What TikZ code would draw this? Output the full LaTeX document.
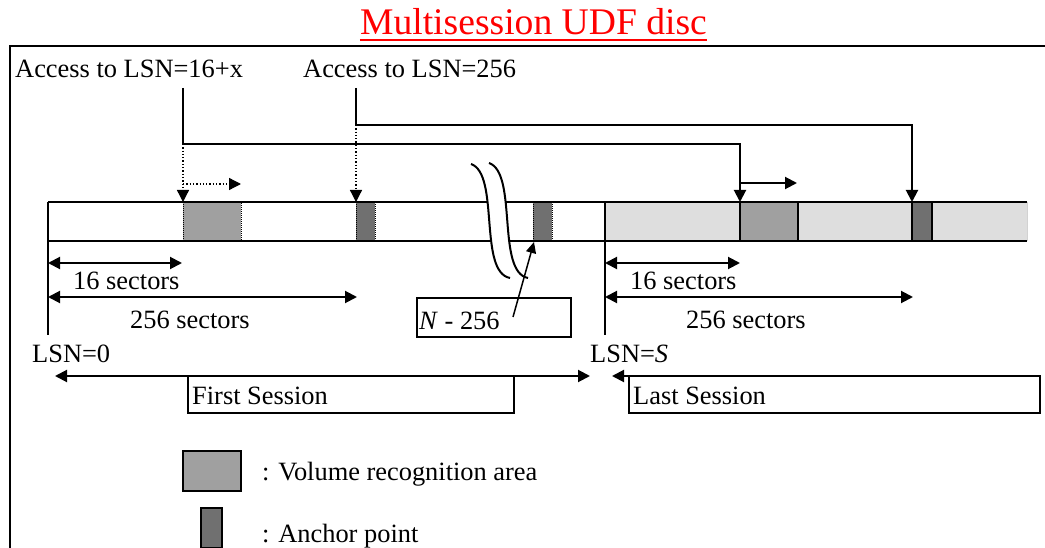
\documentclass[tikz,border=0pt]{standalone}
\usepackage{fontspec}
\setmainfont{Liberation Serif}
\usetikzlibrary{arrows.meta}
\definecolor{vragray}{HTML}{A0A0A0}
\definecolor{ancgray}{HTML}{707070}
\definecolor{lastgray}{HTML}{DEDEDE}
\begin{document}
\begin{tikzpicture}[x=1pt,y=-1pt,
  txt/.style={font=\fontsize{26.4}{30}\selectfont, inner sep=0pt, anchor=base west},
  thk/.style={line width=2pt},
  arr/.style={line width=2pt,-{Triangle[length=12pt,width=12pt]}},
  darr/.style={line width=2pt,{Triangle[length=12pt,width=12pt]}-{Triangle[length=12pt,width=12pt]}},
  dotarr/.style={line width=1.3pt,dotted,-{Triangle[length=12pt,width=12pt]}},
  dotbox/.style={line width=1pt,densely dotted},
  sbox/.style={line width=1.6pt},
]
\useasboundingbox (0,0) rectangle (1045,548);

% title
\node[font=\fontsize{37.6}{40}\selectfont, text=red, inner sep=0pt, anchor=base] (title) at (533.5,35) {Multisession UDF disc};
\draw[red, line width=2pt] ([yshift=-5pt]title.base west) -- ([yshift=-5pt]title.base east);

% frame
\draw[thk] (1045,46) -- (10,46) -- (10,548);

% bar
\fill[white] (48,202) rectangle (605,241);
\fill[lastgray] (605,202) rectangle (1027,241);
\draw[gray!35, line width=0.8pt] (1027,202) -- (1027,241);
\fill[vragray] (183,202) rectangle (241,241);
\draw[dotbox] (183,202) rectangle (241,241);
\fill[ancgray] (356,202) rectangle (375,241);
\draw[dotbox] (356,202) rectangle (375,241);
\fill[ancgray] (533,202) rectangle (552,241);
\draw[dotbox] (533,202) rectangle (552,241);
\draw[thk, fill=vragray] (740,202) rectangle (798,241);
\draw[thk, fill=ancgray] (912,202) rectangle (932,241);
\draw[thk] (48,202) -- (1027,202);
\draw[thk] (48,241) -- (1027,241);
\draw[thk] (48,202) -- (48,335);
\draw[thk] (605,202) -- (605,335);

% break
\fill[white] (471,164) .. controls (500,174) and (478,272) .. (510,278) -- (528,278) .. controls (496,272) and (518,173) .. (489,163) -- cycle;
\draw[thk] (471,164) .. controls (500,174) and (478,272) .. (510,278);
\draw[thk] (489,163) .. controls (518,173) and (496,272) .. (528,278);

% access labels
\node[txt] (acc1) at (15,78) {Access to LSN=16+x};
\node[txt] (acc2) at (303,78) {Access to LSN=256};
\coordinate (a1) at (183,88);
\coordinate (a2) at (356,88);
\coordinate (v1) at (740,202);
\coordinate (v2) at (912,202);
\coordinate (f1) at (183,202);
\coordinate (f2) at (356,202);

\draw[arr] (a1) |- (740,144) -- (v1);
\draw[arr] (a2) |- (912,125) -- (v2);
\draw[dotarr] (183,144) -- (f1);
\draw[dotarr] (356,125) -- (f2);
\draw[dotarr] (183,184) -- (241,184);
\draw[arr] (740,183) -- (797,183);

% dimensions
\draw[darr] (48,263) -- (182,263);
\node[txt] (s16a) at (73,290) {16 sectors};
\draw[darr] (48,297) -- (357,297);
\node[txt] (s256a) at (130,328) {256 sectors};
\draw[darr] (605,263) -- (740,263);
\node[txt] (s16b) at (630,290) {16 sectors};
\draw[darr] (605,297) -- (913,297);
\node[txt] (s256b) at (686,328) {256 sectors};

% N - 256
\draw[sbox] (417,298) rectangle (571,337);
\node[txt] (nlab) at (419,330) {\textit{N} - 256};
\coordinate (ancb) at (534,242);
\draw[line width=1.5pt,-{Triangle[length=11pt,width=10pt]}] (513,317) -- (ancb);

% LSN labels
\node[txt] (lsn0) at (32,362) {LSN=0};
\node[txt] (lsns) at (590,362) {LSN=\textit{S}};

% sessions
\draw[sbox] (188,376) rectangle (514,413);
\node[txt] (first) at (192,404) {First Session};
\draw[darr] (55,376) -- (590,376);
\draw[sbox] (629,376) rectangle (1040,413);
\node[txt] (last) at (633,404) {Last Session};
\draw[arr] (1013,376) -- (612,376);

% legend
\draw[thk, fill=vragray] (183,451) rectangle (241,491);
\node[txt] (lg1) at (262,480) {: Volume recognition area};
\draw[thk, fill=ancgray] (201,508) rectangle (222,548);
\node[txt] (lg2) at (262,542) {: Anchor point};
\end{tikzpicture}
\end{document}
